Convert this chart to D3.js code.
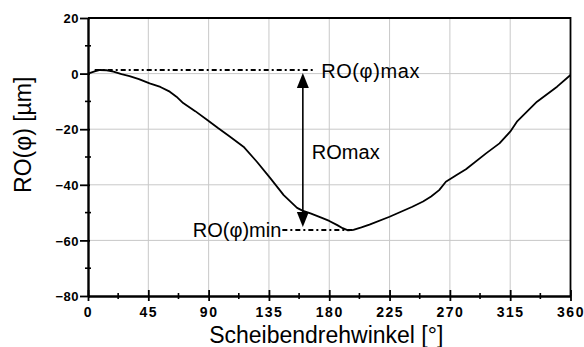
<!DOCTYPE html>
<html>
<head>
<meta charset="utf-8">
<script src="https://cdn.jsdelivr.net/npm/d3@7"></script>
<style>
  body { margin: 0; background: #fff; }
  text { font-family: "Liberation Sans", Arial, sans-serif; }
</style>
</head>
<body>
<svg width="584" height="347"></svg>
<script>
// Rundlauf über den Scheibendrehwinkel
const phi = [0, 5, 9, 14, 19, 25, 31, 38, 46, 54, 61, 66, 71, 80, 89, 97, 106, 116, 126, 136,
    146, 156, 160, 166, 175, 180, 186, 190, 194, 198, 204, 210, 225, 242, 250, 256, 262, 267,
    275, 282, 297, 307, 315, 320, 335, 350, 360];
const ro = [0, 0.8, 1.3, 1.2, 0.7, -0.2, -0.9, -2.0, -3.5, -4.8, -6.5, -8.3, -10.6, -13.5, -16.7,
    -19.6, -22.7, -26.3, -31.7, -37.6, -43.7, -48.3, -49.3, -50.3, -52.0, -53.0, -54.5, -55.6,
    -56.4, -56.2, -55.3, -54.3, -51.5, -47.9, -46.0, -44.2, -41.9, -38.9, -36.5, -34.4, -28.7,
    -25.1, -20.9, -17.3, -10.1, -4.7, -0.5];

const xTicks = [0, 45, 90, 135, 180, 225, 270, 315, 360];
const xMinor = [22.5, 67.5, 112.5, 157.5, 202.5, 247.5, 292.5, 337.5];
const yTicks = [20, 0, -20, -40, -60, -80];
const yMinor = [10, -10, -30, -50, -70];

// Annotation: RO(phi)max, RO(phi)min, Pfeil ROmax
const roMax = 1.3, phiMaxStart = 5, phiMaxEnd = 168;
const roMin = -56.3, phiMinStart = 145, phiMinEnd = 198;
const phiArrow = 160.3;

const svg = d3.select("svg");

const x = d3.scaleLinear().domain([0, 360]).range([88, 570.5]);
const y = d3.scaleLinear().domain([-80, 20]).range([296, 18]);

// Gitter
svg.append("g")
    .selectAll("line")
    .data(xTicks.slice(1, -1))
    .enter()
    .append("line")
    .attr("x1", d => x(d)).attr("x2", d => x(d))
    .attr("y1", y(20)).attr("y2", y(-80))
    .attr("stroke", "#c8c8c8").attr("stroke-width", 1);

svg.append("g")
    .selectAll("line")
    .data(yTicks.slice(1, -1))
    .enter()
    .append("line")
    .attr("y1", d => y(d)).attr("y2", d => y(d))
    .attr("x1", x(0)).attr("x2", x(360))
    .attr("stroke", "#c8c8c8").attr("stroke-width", 1);

// Rahmen oben/rechts
svg.append("path")
    .attr("d", `M${x(0)},${y(20)}H${x(360)}V${y(-80)}`)
    .attr("fill", "none").attr("stroke", "#000").attr("stroke-width", 1.8);

// Achsen
const xAxis = svg.append("g")
    .attr("transform", `translate(0,${y(-80)})`)
    .call(d3.axisBottom(x).tickValues(xTicks).tickFormat(d3.format("d")).tickSizeOuter(0));
xAxis.select(".domain").attr("stroke-width", 2.4);
xAxis.selectAll(".tick line").attr("y1", -6).attr("y2", 5).attr("stroke-width", 1.8);
xAxis.selectAll(".tick text")
    .attr("y", 21).attr("dy", 0)
    .attr("letter-spacing", 1.5).attr("fill", "#000")
    .style("font-family", "'Liberation Sans', Arial, sans-serif")
    .style("font-size", "14px")
    .style("font-weight", "bold");

xAxis.selectAll(".minor")
    .data(xMinor)
    .enter()
    .append("line")
    .attr("class", "minor")
    .attr("x1", d => x(d)).attr("x2", d => x(d))
    .attr("y1", -3).attr("y2", 3)
    .attr("stroke", "#000").attr("stroke-width", 1.6);

const yAxis = svg.append("g")
    .attr("transform", `translate(${x(0)},0)`)
    .call(d3.axisLeft(y).tickValues(yTicks).tickFormat(d3.format("d")).tickSizeOuter(0));
yAxis.select(".domain").attr("stroke-width", 2.4);
yAxis.selectAll(".tick line").attr("x1", 2).attr("x2", -8).attr("stroke-width", 1.8);
yAxis.selectAll(".tick text")
    .attr("x", -9).attr("dy", "0.36em")
    .attr("letter-spacing", 0.5).attr("fill", "#000")
    .style("font-family", "'Liberation Sans', Arial, sans-serif")
    .style("font-size", "13px")
    .style("font-weight", "bold");

yAxis.selectAll(".minor")
    .data(yMinor)
    .enter()
    .append("line")
    .attr("class", "minor")
    .attr("y1", d => y(d)).attr("y2", d => y(d))
    .attr("x1", -3).attr("x2", 3)
    .attr("stroke", "#000").attr("stroke-width", 1.6);

// Achsentitel
svg.append("text")
    .attr("transform", `translate(31,${y(-22)}) rotate(-90)`)
    .attr("text-anchor", "middle")
    .attr("font-size", 23)
    .text("RO(φ) [µm]");

svg.append("text")
    .attr("x", (x(0) + x(360)) / 2 - 3)
    .attr("y", 343)
    .attr("text-anchor", "middle")
    .attr("font-size", 23)
    .text("Scheibendrehwinkel [°]");

// Messkurve
const line = d3.line()
    .x((d, i) => x(phi[i]))
    .y(d => y(d));

svg.append("path")
    .datum(ro)
    .attr("d", line)
    .attr("fill", "none")
    .attr("stroke", "#000")
    .attr("stroke-width", 1.8)
    .attr("stroke-linejoin", "round");

// Strich-Punkt-Linien
const dash = "5,3,2,3";
svg.append("line")
    .attr("x1", x(phiMaxStart)).attr("x2", x(phiMaxEnd))
    .attr("y1", y(roMax)).attr("y2", y(roMax))
    .attr("stroke", "#000").attr("stroke-width", 2).attr("stroke-dasharray", dash);

svg.append("line")
    .attr("x1", x(phiMinStart)).attr("x2", x(phiMinEnd))
    .attr("y1", y(roMin)).attr("y2", y(roMin))
    .attr("stroke", "#000").attr("stroke-width", 2).attr("stroke-dasharray", dash);

// Pfeil ROmax
const ax = x(phiArrow);
const tipTop = y(roMax) + 3, tipBot = y(roMin) - 3;
svg.append("line")
    .attr("x1", ax).attr("x2", ax)
    .attr("y1", tipTop + 10).attr("y2", tipBot - 10)
    .attr("stroke", "#000").attr("stroke-width", 1.6);
svg.append("path")
    .attr("d", `M${ax},${tipTop}L${ax - 6},${tipTop + 15}L${ax + 6},${tipTop + 15}Z`)
    .attr("fill", "#000");
svg.append("path")
    .attr("d", `M${ax},${tipBot}L${ax - 6},${tipBot - 15}L${ax + 6},${tipBot - 15}Z`)
    .attr("fill", "#000");

// Beschriftungen
svg.append("text")
    .attr("x", x(phiMaxEnd) + 8)
    .attr("y", y(roMax) + 8)
    .attr("font-size", 20)
    .attr("letter-spacing", 0.6)
    .text("RO(φ)max");

svg.append("text")
    .attr("x", ax + 9)
    .attr("y", y((roMax + roMin) / 2) + 9)
    .attr("font-size", 20)
    .text("ROmax");

svg.append("text")
    .attr("x", x(phiMinStart) - 1)
    .attr("y", y(roMin) + 7)
    .attr("text-anchor", "end")
    .attr("font-size", 20)
    .text("RO(φ)min");
</script>
</body>
</html>
